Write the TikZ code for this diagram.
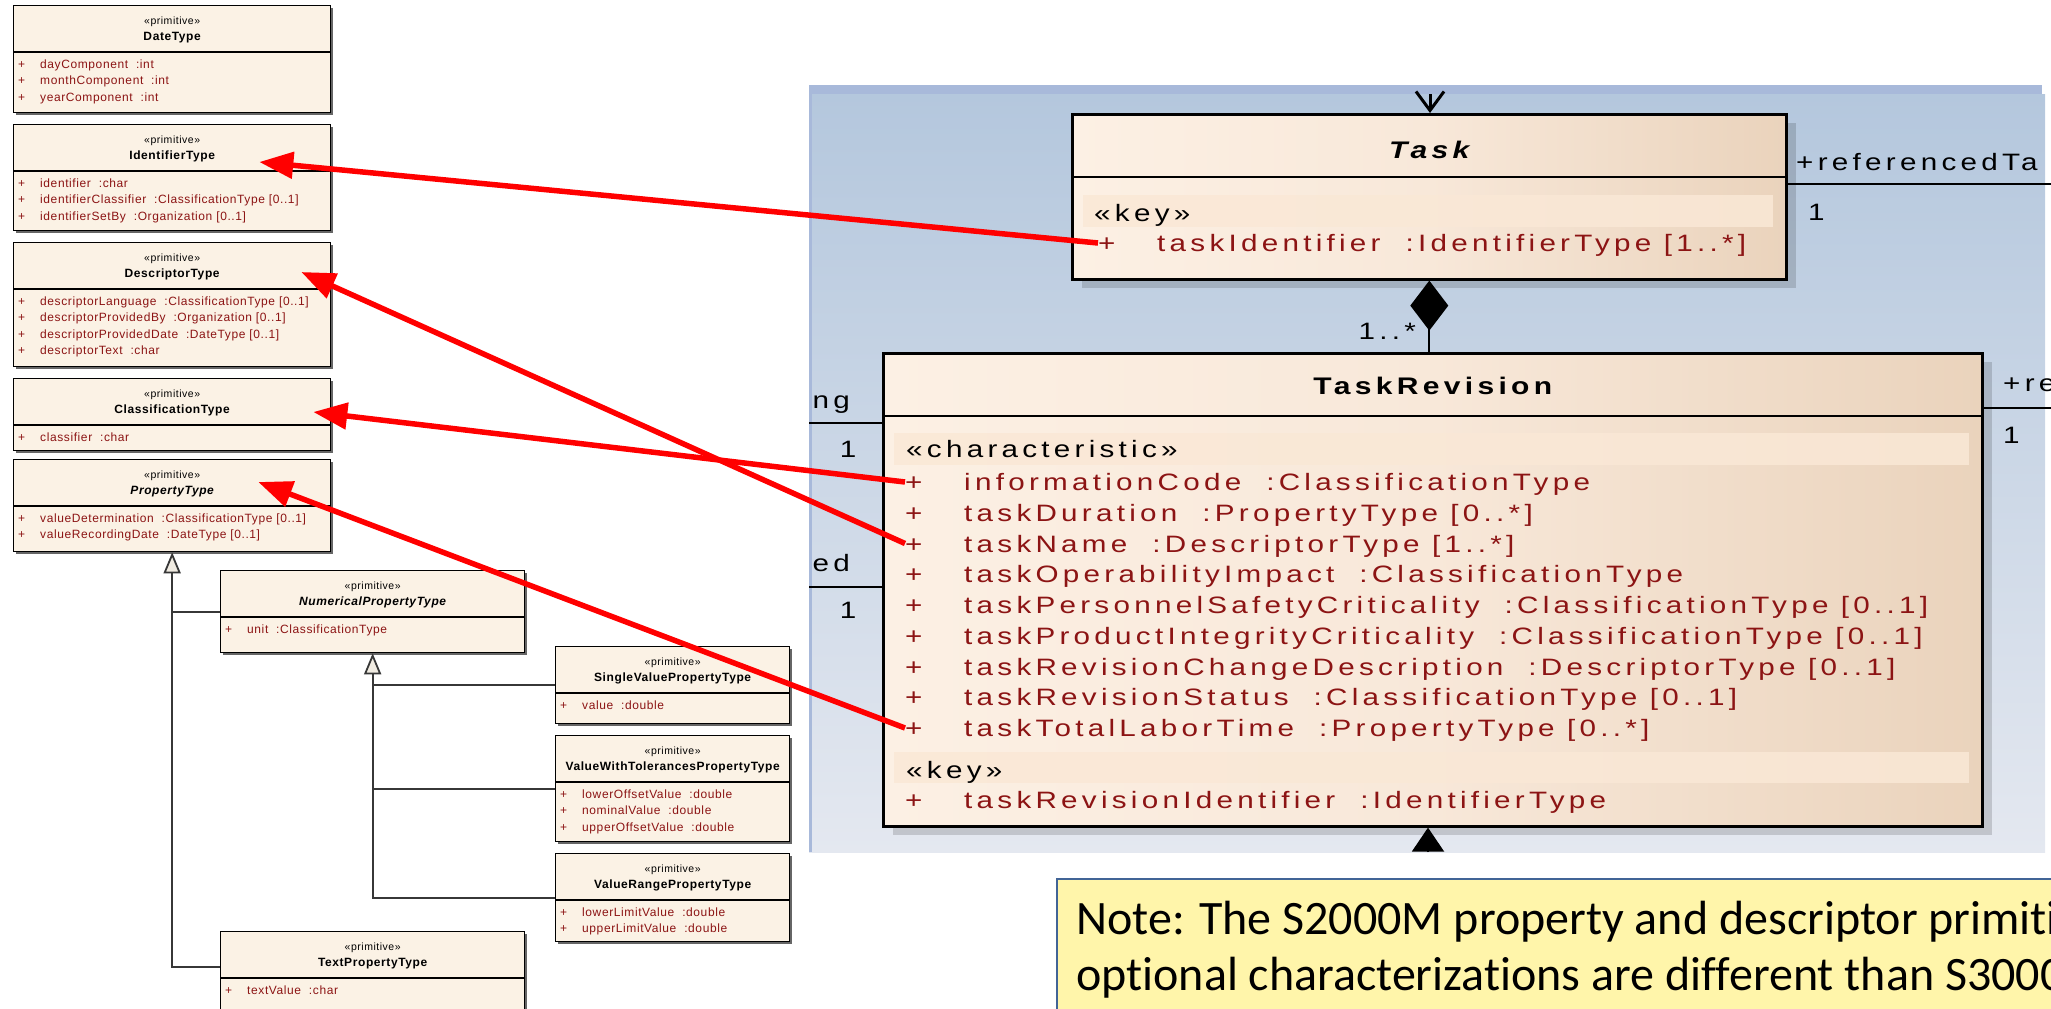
\documentclass[tikz,border=0pt]{standalone}
\usepackage{fontspec}
\setmainfont{Liberation Sans}
\newfontfamily\eafont[LetterSpace=5]{Liberation Sans}
\newfontfamily\eawide[FakeStretch=1.25, LetterSpace=18]{Liberation Sans}
\newfontfamily\notefont[Ligatures=NoCommon]{Carlito}
\usepackage{tikz}
\usetikzlibrary{positioning}
\usetikzlibrary{arrows.meta}
\usetikzlibrary{shadows}

\definecolor{primfill}{RGB}{251,242,229}
\definecolor{attrred}{RGB}{140,20,20}
\definecolor{classleft}{RGB}{252,240,228}
\definecolor{classmid}{RGB}{248,232,217}
\definecolor{classright}{RGB}{234,211,188}
\definecolor{bandfill}{RGB}{250,232,214}
\definecolor{paneltop}{RGB}{180,199,221}
\definecolor{panelbot}{RGB}{228,232,240}
\definecolor{panelstrip}{RGB}{168,185,218}
\definecolor{notefill}{RGB}{255,245,170}
\definecolor{noteline}{RGB}{65,100,150}
\definecolor{genline}{RGB}{55,55,55}
\definecolor{tipfill}{RGB}{240,235,225}

\tikzset{
  primbox/.style={draw, line width=1.3bp, fill=primfill, anchor=north west, inner sep=0pt,
    drop shadow={shadow xshift=2bp, shadow yshift=-2.5bp, fill=black!60, opacity=1}},
  primline/.style={line width=1.3bp},
  primstereo/.style={font=\eafont\fontsize{10.5bp}{12bp}\selectfont, inner sep=0pt, text height=7.5bp, text depth=0pt},
  primtitle/.style={font=\eafont\bfseries\fontsize{12bp}{14bp}\selectfont, inner sep=0pt, text height=8.6bp, text depth=0pt},
  primattr/.style={anchor=west, font=\eafont\fontsize{12bp}{14bp}\selectfont, text=attrred, inner sep=0pt, text height=8.6bp, text depth=0pt},
  eaclass/.style={draw, line width=2.6bp, anchor=north west, inner sep=0pt,
    left color=classleft, right color=classright, middle color=classmid,
    drop shadow={shadow xshift=10bp, shadow yshift=-9bp, fill=black, opacity=0.15}},
  ealine/.style={line width=2bp},
  eatitle/.style={font=\eawide\bfseries\fontsize{24bp}{28bp}\selectfont, inner sep=0pt, text height=17.5bp, text depth=0pt},
  eatitleit/.style={font=\eawide\bfseries\itshape\fontsize{24bp}{28bp}\selectfont, inner sep=0pt, text height=17.5bp, text depth=0pt},
  ealabel/.style={font=\eawide\fontsize{23.7bp}{28bp}\selectfont, inner sep=0pt, text height=17bp, text depth=0pt},
  eaattr/.style={ealabel, anchor=west, text=attrred},
  eastereo/.style={ealabel, anchor=west},
  band/.style={fill=bandfill, fill opacity=0.85},
  assoc/.style={line width=2bp},
  gen/.style={draw=genline, line width=1.8bp},
  gentip/.style={-{Triangle[open, length=21bp, width=17bp, fill=tipfill]}},
  comp/.style={line width=2bp, -{Diamond[length=50bp, width=38bp]}},
  navarrow/.style={line width=3bp, -{Straight Barb[length=19bp, width=28bp]}},
  inharrow/.style={line width=2bp, -{Triangle[length=24bp, width=32bp]}},
  redarrow/.style={draw=red, line width=5.5bp, -{Triangle[length=34bp, width=26bp]}},
  notebox/.style={draw=noteline, line width=2bp, fill=notefill, anchor=north west, inner sep=0pt},
  notetext/.style={anchor=base west, font=\notefont\fontsize{48bp}{56bp}\selectfont, inner sep=0pt}
}

% primitive class box: name, x, y, width, height, title, title shape, attributes
\newcommand{\primbox}[8]{%
  \node[primbox, minimum width=#4bp, minimum height=#5bp] (#1) at (#2,#3) {};
  \draw[primline] ([yshift=-47bp]#1.north west) -- ([yshift=-47bp]#1.north east);
  \node[primstereo] at ([yshift=-16bp]#1.north) {«primitive»};
  \node[primtitle] at ([yshift=-31bp]#1.north) {#7#6};
  \foreach \a [count=\i] in {#8}
    \node[primattr] at ([xshift=5bp, yshift={-(59+(\i-1)*16.5)*1bp}]#1.north west) {\makebox[22bp][l]{+}\a};
}

\begin{document}
\begin{tikzpicture}[x=1bp, y=-1bp]
  \useasboundingbox (0,0) rectangle (2051,1009);
  \clip (0,0) rectangle (2051,1009);

  % Diagram panel
  \shade[top color=paneltop, bottom color=panelbot] (809,94) rectangle (2045,852);
  \fill[panelstrip] (809,85) rectangle (2042,94);
  \fill[panelstrip] (809,94) rectangle (812,852);

  % Primitive types
  \primbox{date}{13}{5}{317}{107}{DateType}{}{{dayComponent~ :int},{monthComponent~ :int},{yearComponent~ :int}}
  \primbox{ident}{13}{124}{317}{106}{IdentifierType}{}{{identifier~ :char},{identifierClassifier~ :ClassificationType [0..1]},{identifierSetBy~ :Organization [0..1]}}
  \primbox{descr}{13}{242}{317}{124}{DescriptorType}{}{{descriptorLanguage~ :ClassificationType [0..1]},{descriptorProvidedBy~ :Organization [0..1]},{descriptorProvidedDate~ :DateType [0..1]},{descriptorText~ :char}}
  \primbox{classif}{13}{378}{317}{72}{ClassificationType}{}{{classifier~ :char}}
  \primbox{prop}{13}{459}{317}{92}{PropertyType}{\itshape}{{valueDetermination~ :ClassificationType [0..1]},{valueRecordingDate~ :DateType [0..1]}}
  \primbox{numprop}{220}{570}{304}{82}{NumericalPropertyType}{\itshape}{{unit~ :ClassificationType}}
  \primbox{single}{555}{646}{234}{77}{SingleValuePropertyType}{}{{value~ :double}}
  \primbox{vwt}{555}{735}{234}{106}{ValueWithTolerancesPropertyType}{}{{lowerOffsetValue~ :double},{nominalValue~ :double},{upperOffsetValue~ :double}}
  \primbox{vrange}{555}{853}{234}{88}{ValueRangePropertyType}{}{{lowerLimitValue~ :double},{upperLimitValue~ :double}}
  \primbox{textprop}{220}{931}{304}{100}{TextPropertyType}{}{{textValue~ :char}}

  % Generalizations
  \draw[gen] (numprop.west) -- (numprop.west -| prop.south);
  \draw[gen, gentip] ([yshift=-36bp]textprop.north west) -| (prop.south);
  \draw[gen] (single.west) -- (single.west -| numprop.south);
  \draw[gen] (vwt.west) -- (vwt.west -| numprop.south);
  \draw[gen, gentip] (vrange.west) -| (numprop.south);

  % Task
  \node[eaclass, minimum width=714bp, minimum height=165bp] (task) at (1071,113) {};
  \draw[ealine] ([yshift=-64bp]task.north west) -- ([yshift=-64bp]task.north east);
  \node[eatitleit] at ([yshift=-37bp]task.north) {Task};
  \fill[band] (1083,195) rectangle (1773,227);
  \node[eastereo] at (1094,213) {«key»};
  \node[eaattr] (taskid) at (1098,243) {\makebox[59bp][l]{+}taskIdentifier~ :IdentifierType [1..*]};

  % TaskRevision
  \node[eaclass, minimum width=1099bp, minimum height=473bp] (trev) at (882,352) {};
  \draw[ealine] ([yshift=-64bp]trev.north west) -- ([yshift=-64bp]trev.north east);
  \node[eatitle] at ([yshift=-34bp]trev.north) {TaskRevision};
  \fill[band] (894,433) rectangle (1969,465);
  \node[eastereo] at (906,449) {«characteristic»};
  \foreach \a [count=\i] in {{informationCode~ :ClassificationType},
      {taskDuration~ :PropertyType [0..*]},
      {taskName~ :DescriptorType [1..*]},
      {taskOperabilityImpact~ :ClassificationType},
      {taskPersonnelSafetyCriticality~ :ClassificationType [0..1]},
      {taskProductIntegrityCriticality~ :ClassificationType [0..1]},
      {taskRevisionChangeDescription~ :DescriptorType [0..1]},
      {taskRevisionStatus~ :ClassificationType [0..1]},
      {taskTotalLaborTime~ :PropertyType [0..*]}}
    \node[eaattr] (rev\i) at (905,{482+(\i-1)*30.75}) {\makebox[59bp][l]{+}\a};
  \fill[band] (894,752) rectangle (1969,783);
  \node[eastereo] at (906,770) {«key»};
  \node[eaattr] (revkey) at (905,800) {\makebox[59bp][l]{+}taskRevisionIdentifier~ :IdentifierType};

  % Associations
  \coordinate (tasktop) at (1430,94);
  \coordinate (revfoot) at (1428,852);
  \coordinate (lend1) at (809,423);
  \coordinate (lend2) at (809,587);
  \coordinate (rend1) at (2051,184);
  \coordinate (rend2) at (2051,408);
  \draw[navarrow] (tasktop) -- (tasktop |- task.north);
  \draw[comp] (trev.north -| task.south) -- (task.south);
  \draw[inharrow] (revfoot) -- (revfoot |- trev.south);
  \draw[assoc] (lend1) -- (lend1 -| trev.west);
  \draw[assoc] (lend2) -- (lend2 -| trev.west);
  \draw[assoc] (task.east |- rend1) -- (rend1);
  \draw[assoc] (trev.east |- rend2) -- (rend2);
  \node[ealabel, anchor=east] at (1416,331) {1..*};
  \node[ealabel, anchor=west] at (1796,162) {+referencedTa};
  \node[ealabel, anchor=west] at (1808,212) {1};
  \node[ealabel, anchor=west] at (2003,383) {+re};
  \node[ealabel, anchor=west] at (2003,435) {1};
  \node[ealabel, anchor=east] at (850,400) {ng};
  \node[ealabel] at (848,449) {1};
  \node[ealabel, anchor=east] at (850,563) {ed};
  \node[ealabel] at (848,610) {1};

  % Note
  \node[notebox, minimum width=1100bp, minimum height=200bp] (note) at (1056,878) {};
  \node[notetext] (note1) at (1076,934) {Note: The S2000M property and descriptor primiti};
  \node[notetext] (note2) at (1076,990) {optional characterizations are different than S3000};

  % Mapping arrows
  \draw[redarrow] (taskid.west) -- ([xshift=-72bp, yshift=-38bp]ident.north east);
  \draw[redarrow] (rev3.west) -- ([xshift=-30bp, yshift=-30bp]descr.north east);
  \draw[redarrow] (rev1.west) -- ([xshift=-18bp, yshift=-34bp]classif.north east);
  \draw[redarrow] (rev9.west) -- ([xshift=-73bp, yshift=-23bp]prop.north east);
\end{tikzpicture}
\end{document}
